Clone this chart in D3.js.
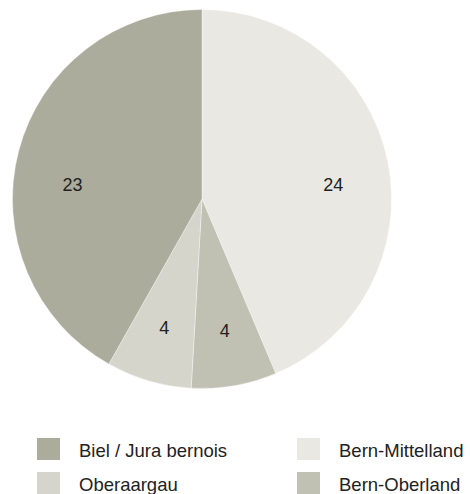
<!DOCTYPE html>
<html>
<head>
<meta charset="utf-8">
<script src="https://cdn.jsdelivr.net/npm/d3@7"></script>
<style>
  html, body { margin: 0; padding: 0; background: #fff; }
  svg { display: block; font-family: "Liberation Sans", Arial, sans-serif; }
</style>
</head>
<body>
<svg id="chart" width="470" height="494"></svg>
<script>
// Regions, drawn clockwise from twelve o'clock
const regions = ["Bern-Mittelland", "Bern-Oberland", "Oberaargau", "Biel / Jura bernois"];
const counts = [24, 4, 4, 23];
const colors = ["#e9e8e3", "#c0c0b3", "#d5d5cc", "#abac9b"];
// Legend order (two columns, row by row)
const legendOrder = ["Biel / Jura bernois", "Bern-Mittelland", "Oberaargau", "Bern-Oberland"];

const svg = d3.select("#chart");
const cx = 202, cy = 199, radius = 189.5;

const color = d3.scaleOrdinal().domain(regions).range(colors);

const pie = d3.pie().sort(null).value(d => d.value);
const data = pie(regions.map((r, i) => ({ name: r, value: counts[i] })));

const arc = d3.arc().innerRadius(0).outerRadius(radius);
const labelArc = d3.arc().innerRadius(134).outerRadius(134);

const g = svg.append("g").attr("transform", `translate(${cx},${cy})`);

g.selectAll("path.slice")
  .data(data)
  .join("path")
  .attr("class", "slice")
  .attr("d", arc)
  .attr("fill", d => color(d.data.name))
  .attr("stroke", "#ffffff")
  .attr("stroke-width", 0.6)
  .attr("stroke-opacity", 0.6);

g.selectAll("text.value")
  .data(data)
  .join("text")
  .attr("class", "value")
  .attr("x", d => labelArc.centroid(d)[0])
  .attr("y", d => {
    const y = labelArc.centroid(d)[1];
    // labels of the wide slices sit close to the horizontal line through the centre
    return Math.abs(y) < 60 ? Math.sign(y) * 14 : y;
  })
  .attr("text-anchor", "middle")
  .attr("dominant-baseline", "central")
  .attr("font-size", 18)
  .attr("fill", "#222")
  .text(d => d.data.value);

// Legend
const legend = svg.append("g");
const colX = [37, 297], rowY = [438, 472], sw = 22;
legendOrder.forEach((name, i) => {
  const col = i % 2, row = Math.floor(i / 2);
  const item = legend.append("g").attr("transform", `translate(${colX[col]},${rowY[row]})`);
  item.append("rect")
    .attr("width", sw + 1).attr("height", sw)
    .attr("fill", color(name));
  item.append("text")
    .attr("x", 42).attr("y", sw / 2 + 1)
    .attr("dominant-baseline", "central")
    .attr("font-size", 18.5)
    .attr("fill", "#222")
    .text(name);
});
</script>
</body>
</html>
